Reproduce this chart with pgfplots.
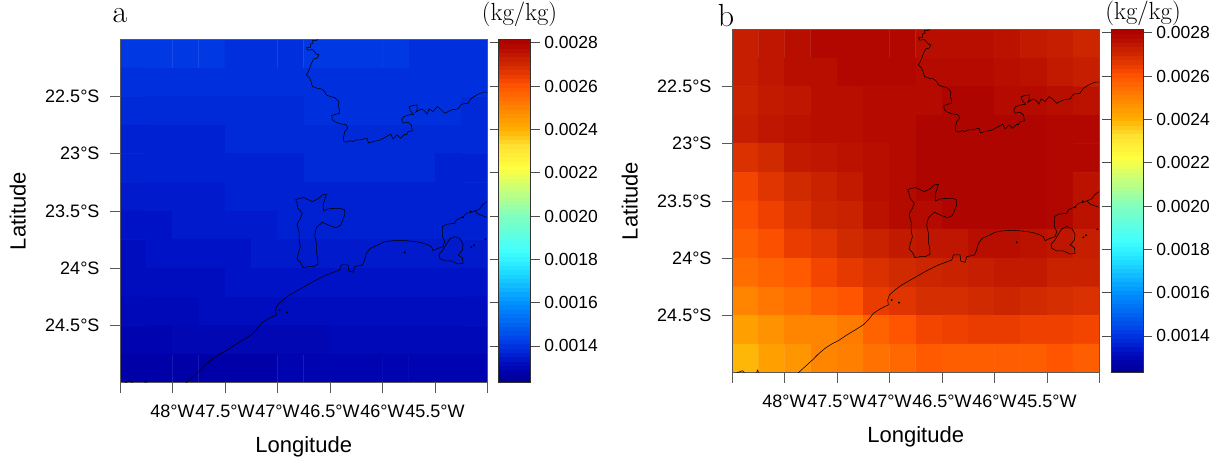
\documentclass[border=0pt]{standalone}
\usepackage{fontspec}
\usepackage{pgfplots}
\usepackage{pgfplotstable}
\pgfplotsset{compat=1.18}
\newfontfamily\arial{Liberation Sans}
\pgfplotstableread{
x y v
-48.375 -22.125 0.00141
-48.125 -22.125 0.00141
-47.875 -22.125 0.00141
-47.625 -22.125 0.00141
-47.375 -22.125 0.001395
-47.125 -22.125 0.001395
-46.875 -22.125 0.001395
-46.625 -22.125 0.00141
-46.375 -22.125 0.00141
-46.125 -22.125 0.00141
-45.875 -22.125 0.00141
-45.625 -22.125 0.001395
-45.375 -22.125 0.001395
-45.125 -22.125 0.001395
-48.375 -22.375 0.001395
-48.125 -22.375 0.001395
-47.875 -22.375 0.001395
-47.625 -22.375 0.001395
-47.375 -22.375 0.001395
-47.125 -22.375 0.001395
-46.875 -22.375 0.001395
-46.625 -22.375 0.001395
-46.375 -22.375 0.001395
-46.125 -22.375 0.001395
-45.875 -22.375 0.001395
-45.625 -22.375 0.001395
-45.375 -22.375 0.001395
-45.125 -22.375 0.001395
-48.375 -22.625 0.00138
-48.125 -22.625 0.00138
-47.875 -22.625 0.00138
-47.625 -22.625 0.00138
-47.375 -22.625 0.00138
-47.125 -22.625 0.00138
-46.875 -22.625 0.00138
-46.625 -22.625 0.001395
-46.375 -22.625 0.001395
-46.125 -22.625 0.001395
-45.875 -22.625 0.001395
-45.625 -22.625 0.001395
-45.375 -22.625 0.001395
-45.125 -22.625 0.00138
-48.375 -22.875 0.001365
-48.125 -22.875 0.001365
-47.875 -22.875 0.001365
-47.625 -22.875 0.001365
-47.375 -22.875 0.00138
-47.125 -22.875 0.00138
-46.875 -22.875 0.00138
-46.625 -22.875 0.00138
-46.375 -22.875 0.00138
-46.125 -22.875 0.00138
-45.875 -22.875 0.00138
-45.625 -22.875 0.00138
-45.375 -22.875 0.00138
-45.125 -22.875 0.00138
-48.375 -23.125 0.001365
-48.125 -23.125 0.001365
-47.875 -23.125 0.001365
-47.625 -23.125 0.001365
-47.375 -23.125 0.001365
-47.125 -23.125 0.001365
-46.875 -23.125 0.001365
-46.625 -23.125 0.00138
-46.375 -23.125 0.00138
-46.125 -23.125 0.00138
-45.875 -23.125 0.00138
-45.625 -23.125 0.00138
-45.375 -23.125 0.001365
-45.125 -23.125 0.001365
-48.375 -23.375 0.00135
-48.125 -23.375 0.00135
-47.875 -23.375 0.00135
-47.625 -23.375 0.00135
-47.375 -23.375 0.001365
-47.125 -23.375 0.001365
-46.875 -23.375 0.001365
-46.625 -23.375 0.001365
-46.375 -23.375 0.001365
-46.125 -23.375 0.001365
-45.875 -23.375 0.001365
-45.625 -23.375 0.001365
-45.375 -23.375 0.001365
-45.125 -23.375 0.001365
-48.375 -23.625 0.001335
-48.125 -23.625 0.001335
-47.875 -23.625 0.00135
-47.625 -23.625 0.00135
-47.375 -23.625 0.00135
-47.125 -23.625 0.00135
-46.875 -23.625 0.001365
-46.625 -23.625 0.001365
-46.375 -23.625 0.001365
-46.125 -23.625 0.001365
-45.875 -23.625 0.001365
-45.625 -23.625 0.001365
-45.375 -23.625 0.001365
-45.125 -23.625 0.001365
-48.375 -23.875 0.00132
-48.125 -23.875 0.001335
-47.875 -23.875 0.001335
-47.625 -23.875 0.001335
-47.375 -23.875 0.001335
-47.125 -23.875 0.00135
-46.875 -23.875 0.00135
-46.625 -23.875 0.00135
-46.375 -23.875 0.00135
-46.125 -23.875 0.00135
-45.875 -23.875 0.00135
-45.625 -23.875 0.00135
-45.375 -23.875 0.00135
-45.125 -23.875 0.00135
-48.375 -24.125 0.00132
-48.125 -24.125 0.00132
-47.875 -24.125 0.00132
-47.625 -24.125 0.00132
-47.375 -24.125 0.001335
-47.125 -24.125 0.001335
-46.875 -24.125 0.001335
-46.625 -24.125 0.001335
-46.375 -24.125 0.001335
-46.125 -24.125 0.001335
-45.875 -24.125 0.001335
-45.625 -24.125 0.001335
-45.375 -24.125 0.001335
-45.125 -24.125 0.001335
-48.375 -24.375 0.001305
-48.125 -24.375 0.001305
-47.875 -24.375 0.001305
-47.625 -24.375 0.00132
-47.375 -24.375 0.00132
-47.125 -24.375 0.00132
-46.875 -24.375 0.00132
-46.625 -24.375 0.00132
-46.375 -24.375 0.00132
-46.125 -24.375 0.00132
-45.875 -24.375 0.00132
-45.625 -24.375 0.00132
-45.375 -24.375 0.00132
-45.125 -24.375 0.00132
-48.375 -24.625 0.00129
-48.125 -24.625 0.00129
-47.875 -24.625 0.0012975
-47.625 -24.625 0.0012975
-47.375 -24.625 0.0012975
-47.125 -24.625 0.0012975
-46.875 -24.625 0.0012975
-46.625 -24.625 0.0012975
-46.375 -24.625 0.001305
-46.125 -24.625 0.001305
-45.875 -24.625 0.001305
-45.625 -24.625 0.001305
-45.375 -24.625 0.001305
-45.125 -24.625 0.001305
-48.375 -24.875 0.001275
-48.125 -24.875 0.001275
-47.875 -24.875 0.001275
-47.625 -24.875 0.001275
-47.375 -24.875 0.001275
-47.125 -24.875 0.001275
-46.875 -24.875 0.00129
-46.625 -24.875 0.00129
-46.375 -24.875 0.00129
-46.125 -24.875 0.00129
-45.875 -24.875 0.00129
-45.625 -24.875 0.00129
-45.375 -24.875 0.00129
-45.125 -24.875 0.00129
}\panelA
\pgfplotstableread{
x y v
-48.375 -22.125 0.00273
-48.125 -22.125 0.00275
-47.875 -22.125 0.00277
-47.625 -22.125 0.00279
-47.375 -22.125 0.00279
-47.125 -22.125 0.00279
-46.875 -22.125 0.00279
-46.625 -22.125 0.00277
-46.375 -22.125 0.00277
-46.125 -22.125 0.00277
-45.875 -22.125 0.00276
-45.625 -22.125 0.00274
-45.375 -22.125 0.00273
-45.125 -22.125 0.00271
-48.375 -22.375 0.00273
-48.125 -22.375 0.00275
-47.875 -22.375 0.00277
-47.625 -22.375 0.00277
-47.375 -22.375 0.00279
-47.125 -22.375 0.00279
-46.875 -22.375 0.00279
-46.625 -22.375 0.00278
-46.375 -22.375 0.00278
-46.125 -22.375 0.00278
-45.875 -22.375 0.00277
-45.625 -22.375 0.00276
-45.375 -22.375 0.00274
-45.125 -22.375 0.00273
-48.375 -22.625 0.00272
-48.125 -22.625 0.00274
-47.875 -22.625 0.00275
-47.625 -22.625 0.00277
-47.375 -22.625 0.00277
-47.125 -22.625 0.00278
-46.875 -22.625 0.00278
-46.625 -22.625 0.00278
-46.375 -22.625 0.0028
-46.125 -22.625 0.0028
-45.875 -22.625 0.00278
-45.625 -22.625 0.00278
-45.375 -22.625 0.00277
-45.125 -22.625 0.00276
-48.375 -22.875 0.00273
-48.125 -22.875 0.00275
-47.875 -22.875 0.00276
-47.625 -22.875 0.00277
-47.375 -22.875 0.00277
-47.125 -22.875 0.00278
-46.875 -22.875 0.00278
-46.625 -22.875 0.0028
-46.375 -22.875 0.0028
-46.125 -22.875 0.0028
-45.875 -22.875 0.0028
-45.625 -22.875 0.0028
-45.375 -22.875 0.00279
-45.125 -22.875 0.00279
-48.375 -23.125 0.00268
-48.125 -23.125 0.0027
-47.875 -23.125 0.00274
-47.625 -23.125 0.00275
-47.375 -23.125 0.00276
-47.125 -23.125 0.00277
-46.875 -23.125 0.00278
-46.625 -23.125 0.0028
-46.375 -23.125 0.0028
-46.125 -23.125 0.0028
-45.875 -23.125 0.0028
-45.625 -23.125 0.0028
-45.375 -23.125 0.00279
-45.125 -23.125 0.00279
-48.375 -23.375 0.00263
-48.125 -23.375 0.00267
-47.875 -23.375 0.0027
-47.625 -23.375 0.00272
-47.375 -23.375 0.00274
-47.125 -23.375 0.00277
-46.875 -23.375 0.00278
-46.625 -23.375 0.0028
-46.375 -23.375 0.0028
-46.125 -23.375 0.0028
-45.875 -23.375 0.0028
-45.625 -23.375 0.0028
-45.375 -23.375 0.00279
-45.125 -23.375 0.00276
-48.375 -23.625 0.00261
-48.125 -23.625 0.00264
-47.875 -23.625 0.00268
-47.625 -23.625 0.00271
-47.375 -23.625 0.00272
-47.125 -23.625 0.00276
-46.875 -23.625 0.00278
-46.625 -23.625 0.00278
-46.375 -23.625 0.0028
-46.125 -23.625 0.0028
-45.875 -23.625 0.0028
-45.625 -23.625 0.0028
-45.375 -23.625 0.00279
-45.125 -23.625 0.00276
-48.375 -23.875 0.00258
-48.125 -23.875 0.00261
-47.875 -23.875 0.00265
-47.625 -23.875 0.00267
-47.375 -23.875 0.0027
-47.125 -23.875 0.00272
-46.875 -23.875 0.00274
-46.625 -23.875 0.00275
-46.375 -23.875 0.00275
-46.125 -23.875 0.00277
-45.875 -23.875 0.00277
-45.625 -23.875 0.00276
-45.375 -23.875 0.00275
-45.125 -23.875 0.00273
-48.375 -24.125 0.00255
-48.125 -24.125 0.00257
-47.875 -24.125 0.00259
-47.625 -24.125 0.00263
-47.375 -24.125 0.00266
-47.125 -24.125 0.00268
-46.875 -24.125 0.0027
-46.625 -24.125 0.00271
-46.375 -24.125 0.00272
-46.125 -24.125 0.00273
-45.875 -24.125 0.00274
-45.625 -24.125 0.00274
-45.375 -24.125 0.00272
-45.125 -24.125 0.00272
-48.375 -24.375 0.0025
-48.125 -24.375 0.00253
-47.875 -24.375 0.00255
-47.625 -24.375 0.00258
-47.375 -24.375 0.0026
-47.125 -24.375 0.00265
-46.875 -24.375 0.00267
-46.625 -24.375 0.00269
-46.375 -24.375 0.00269
-46.125 -24.375 0.0027
-45.875 -24.375 0.00271
-45.625 -24.375 0.0027
-45.375 -24.375 0.00269
-45.125 -24.375 0.00268
-48.375 -24.625 0.00244
-48.125 -24.625 0.00247
-47.875 -24.625 0.0025
-47.625 -24.625 0.0025
-47.375 -24.625 0.00252
-47.125 -24.625 0.00257
-46.875 -24.625 0.0026
-46.625 -24.625 0.00263
-46.375 -24.625 0.00264
-46.125 -24.625 0.00265
-45.875 -24.625 0.00265
-45.625 -24.625 0.00264
-45.375 -24.625 0.00264
-45.125 -24.625 0.00263
-48.375 -24.875 0.00239
-48.125 -24.875 0.00244
-47.875 -24.875 0.00246
-47.625 -24.875 0.0025
-47.375 -24.875 0.00251
-47.125 -24.875 0.00254
-46.875 -24.875 0.00256
-46.625 -24.875 0.00259
-46.375 -24.875 0.00258
-46.125 -24.875 0.00258
-45.875 -24.875 0.00258
-45.625 -24.875 0.00258
-45.375 -24.875 0.0026
-45.125 -24.875 0.00258
}\panelB
% coastline traced in reference pixels (3x crop), mapped to degrees by coasttab
\pgfplotstableread{
px py
630 89
623 92
613 92
615 100
607 103
607 113
595 113
599 121
613 119
621 127
625 133
633 135
627 145
617 147
611 159
605 175
601 185
595 195
605 205
609 215
613 230
627 235
640 237
650 245
655 255
667 260
680 263
690 272
693 280
690 290
695 300
695 310
683 313
671 317
673 330
683 337
695 341
715 345
719 355
710 365
707 380
707 393
715 397
727 392
733 395
745 390
755 390
777 385
781 399
795 395
817 390
835 380
848 373
855 387
867 375
877 385
890 373
895 375
900 365
913 363
910 345
900 337
885 340
881 330
887 320
903 315
917 313
907 303
903 291
913 287
927 285
927 300
923 307
940 297
950 303
957 313
963 297
975 305
987 290
997 297
1010 310
1030 300
1050 297
1060 283
1080 280
1090 265
1110 253
1125 247
1138 247
}\coastRiver
\pgfplotstableread{
px py
563 569
575 565
587 563
600 569
613 575
630 567
643 555
655 553
650 570
645 585
647 603
660 597
680 595
697 595
710 600
710 615
703 633
697 647
683 653
665 647
643 637
625 653
620 675
625 700
625 725
629 745
630 763
615 770
600 770
585 773
577 757
567 747
571 730
577 710
573 690
573 665
567 643
577 625
583 610
570 595
567 580
563 569
}\coastCity
\pgfplotstableread{
px py
235 1118
255 1100
277 1080
295 1062
315 1045
335 1032
355 1022
380 1005
410 987
433 972
447 957
460 940
475 930
493 920
505 915
503 900
508 885
525 870
545 855
575 838
615 815
655 795
695 780
700 765
720 765
722 783
735 787
740 770
763 765
770 750
775 730
787 715
805 707
825 697
845 693
875 691
905 693
935 697
955 703
970 710
975 722
990 715
1005 710
1010 695
1003 680
1003 650
1015 643
1040 640
1045 630
1065 620
1075 610
1090 607
1100 603
1115 597
1123 585
1137 575
}\coastMain
\pgfplotstableread{
px py
1010 710
1025 687
1040 680
1055 685
1065 703
1063 720
1050 735
1063 743
1065 760
1050 762
1030 753
1010 753
995 745
993 733
1005 720
1010 710
}\coastBay
\pgfplotstableread{
px py
1100 603
1110 612
1125 618
1137 622
}\coastRight
\pgfplotstableread{
px py
50 1118
60 1115
67 1112
73 1118
}\coastSW
\pgfplotstableread{
px py
110 1118
112 1110
117 1118
}\coastSWb
\pgfplotstableread{
px py
1090 712
1098 706
1132 688
890 727
537 908
515 900
1065 622
1088 604
}\coastDots
\pgfplotsset{
  /pgfplots/table/coasttab/.style={x expr=(\thisrow{px}-36)/314.86-48.5, y expr=-22-(\thisrow{py}-88)/343.33},
  shoreline/.style={black,line width=0.55pt,mark=none,sharp plot,point meta=none},
  frame geometry/.style={
    anchor=south west, scale only axis, width=367.4pt, height=343.5pt,
    xmin=-48.5, xmax=-45, ymin=-25, ymax=-22,
  },
  panel/.style={
    frame geometry,
    axis on top,
    axis line style={black!65,line width=0.7pt},
    tick style={black!65,line width=0.8pt},
    tick align=outside, major tick length=10pt,
    xtick pos=bottom, ytick pos=left,
    xtick={-48.5,-48,-47.5,-47,-46.5,-46,-45.5,-45},
    xticklabels={,48°W,47.5°W,47°W,46.5°W,46°W,45.5°W,},
    ytick={-24.5,-24,-23.5,-23,-22.5},
    yticklabels={24.5°S,24°S,23.5°S,23°S,22.5°S},
    tick label style={font=\arial\fontsize{18}{21}\selectfont},
    xticklabel style={yshift=-9pt},
    yticklabel style={xshift=-7pt},
    xlabel={Longitude}, ylabel={Latitude},
    xlabel style={font=\arial\fontsize{22}{26}\selectfont,at={(axis description cs:0.5,-0.186)},anchor=center},
    ylabel style={font=\arial\fontsize{22}{26}\selectfont,at={(axis description cs:-0.278,0.5)},anchor=center},
    colormap={tim}{
      rgb255(1230pt)=(0,0,144)
      rgb255(1275pt)=(0,0,168)
      rgb255(1330pt)=(0,16,196)
      rgb255(1410pt)=(0,56,228)
      rgb255(1600pt)=(0,144,255)
      rgb255(1750pt)=(32,224,255)
      rgb255(1836pt)=(64,255,255)
      rgb255(2000pt)=(128,255,192)
      rgb255(2224pt)=(255,255,64)
      rgb255(2329pt)=(255,224,48)
      rgb255(2400pt)=(255,176,0)
      rgb255(2483pt)=(255,140,0)
      rgb255(2600pt)=(255,85,0)
      rgb255(2640pt)=(240,64,0)
      rgb255(2700pt)=(208,42,0)
      rgb255(2780pt)=(180,10,0)
      rgb255(2817pt)=(168,0,0)
    },
    point meta min=0.00123, point meta max=0.002817,
    colorbar sampled,
    colorbar style={
      samples=80,
      at={(parent axis.south east)}, anchor=south west, xshift=2.9pt,
      scale only axis, width=32pt, height=343.5pt,
      axis line style={black!80,line width=0.7pt},
      tick style={black!70,line width=0.8pt},
      ytick={0.0014,0.0016,0.0018,0.0020,0.0022,0.0024,0.0026,0.0028},
      yticklabels={0.0014,0.0016,0.0018,0.0020,0.0022,0.0024,0.0026,0.0028},
      scaled y ticks=false,
      yticklabel pos=right, tick align=outside, major tick length=9pt,
      yticklabel style={font=\arial\fontsize{17.5}{20}\selectfont,xshift=1pt},
    },
  },
}
\newcommand\drawcoast{%
  \addplot[shoreline] table[coasttab] {\coastRiver};
  \addplot[shoreline] table[coasttab] {\coastCity};
  \addplot[shoreline] table[coasttab] {\coastMain};
  \addplot[shoreline] table[coasttab] {\coastBay};
  \addplot[shoreline] table[coasttab] {\coastRight};
  \addplot[shoreline] table[coasttab] {\coastSW};
  \addplot[shoreline] table[coasttab] {\coastSWb};
  \addplot[only marks,mark=*,mark size=0.7pt,black,point meta=none] table[coasttab] {\coastDots};
}
\begin{document}
\begin{tikzpicture}
\useasboundingbox (0pt,0pt) rectangle (1222pt,465pt);
\begin{axis}[panel, at={(120pt,82.3pt)}]
  \addplot[matrix plot*, draw=mapped color, line width=0.4pt, mesh/cols=14, point meta=explicit] table[x=x,y=y,meta=v] {\panelA};
\end{axis}
\begin{axis}[frame geometry, at={(120pt,82.3pt)}, hide axis]
  \drawcoast
\end{axis}
\begin{axis}[panel, at={(732pt,92.3pt)}]
  \addplot[matrix plot*, draw=mapped color, line width=0.4pt, mesh/cols=14, point meta=explicit] table[x=x,y=y,meta=v] {\panelB};
\end{axis}
\begin{axis}[frame geometry, at={(732pt,92.3pt)}, hide axis]
  \drawcoast
\end{axis}
\node[font=\fontsize{32}{34}\selectfont] at (120pt,449pt) {a};
\node[font=\fontsize{32}{34}\selectfont] at (726pt,449pt) {b};
\node[font=\fontsize{24.7}{28}\selectfont] at (519.5pt,450.5pt) {(kg/kg)};
\node[font=\fontsize{24.7}{28}\selectfont] at (1143pt,452pt) {(kg/kg)};
\end{tikzpicture}
\end{document}
